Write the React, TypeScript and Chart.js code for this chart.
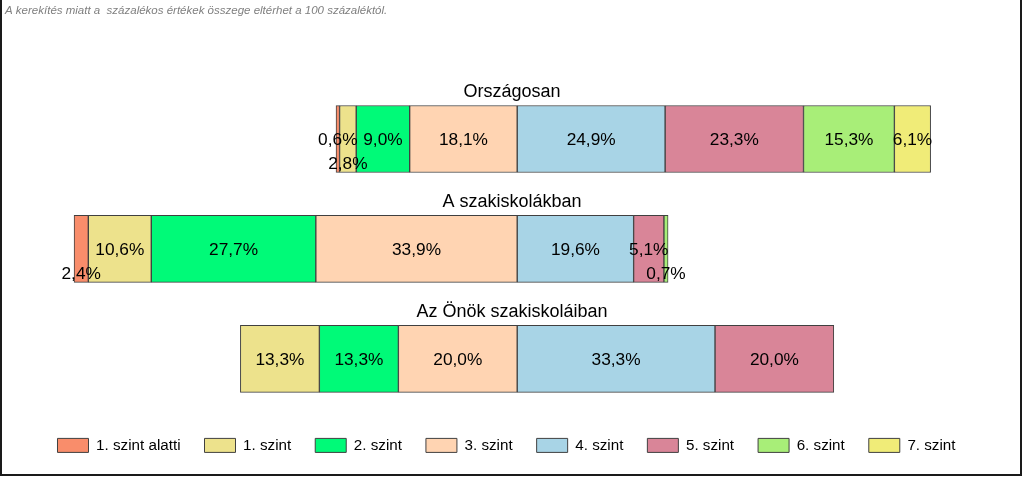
import React, { useEffect, useRef } from 'react';
import { Chart, registerables } from 'chart.js';

Chart.register(...registerables);

const categories = ['Országosan', 'A szakiskolákban', 'Az Önök szakiskoláiban'];
const levelNames = ['1. szint alatti', '1. szint', '2. szint', '3. szint', '4. szint', '5. szint', '6. szint', '7. szint'];

const below1 = [0.6, 2.4, 0];
const level1 = [2.8, 10.6, 13.3];
const level2 = [9.0, 27.7, 13.3];
const level3 = [18.1, 33.9, 20.0];
const level4 = [24.9, 19.6, 33.3];
const level5 = [23.3, 5.1, 20.0];
const level6 = [15.3, 0.7, 0];
const level7 = [6.1, 0, 0];

const series = [below1, level1, level2, level3, level4, level5, level6, level7];
const levelColors = ['#F98D6B', '#EDE28C', '#00FA78', '#FFD4B2', '#A8D4E6', '#D98598', '#A8EE78', '#F0EC78'];

// levels before this index lie left of the zero line
const firstUpperLevel = 4;
// labels drawn below the bar centre (category index, level index)
const staggeredLabels = [[0, 1], [1, 0], [1, 6]];

const note = 'A kerekítés miatt a  százalékos értékek összege eltérhet a 100 százaléktól.';

const FONT = '"Liberation Sans", Arial, sans-serif';

function floating(li: number, ci: number): [number, number] | null {
  const v = series[li][ci];
  if (!v) return null;
  let start = 0;
  if (li < firstUpperLevel) {
    for (let k = li; k < firstUpperLevel; k++) start -= series[k][ci];
  } else {
    for (let k = firstUpperLevel; k < li; k++) start += series[k][ci];
  }
  return [start, start + v];
}

const fmt = (v: number) => v.toFixed(1).replace('.', ',') + '%';

const labelPlugin = {
  id: 'segLabels',
  afterDatasetsDraw(chart: any) {
    const ctx = chart.ctx;
    ctx.save();
    ctx.font = `17.3px ${FONT}`;
    ctx.fillStyle = '#000';
    ctx.textAlign = 'center';
    ctx.textBaseline = 'middle';
    chart.data.datasets.forEach((_ds: any, li: number) => {
      const meta = chart.getDatasetMeta(li);
      meta.data.forEach((el: any, ci: number) => {
        const v = series[li][ci];
        if (!v) return;
        const p = el.getProps(['x', 'base', 'y'], true);
        const cx = (p.x + p.base) / 2;
        const st = staggeredLabels.some(([c, l]) => c === ci && l === li);
        ctx.fillText(fmt(v), cx, p.y + 1 + (st ? 24 : 0));
      });
    });
    // category titles above bars
    ctx.font = `18px ${FONT}`;
    ctx.textBaseline = 'alphabetic';
    const yScale = chart.scales.y;
    categories.forEach((c, ci) => {
      const yc = yScale.getPixelForValue(ci);
      ctx.fillText(c, 512, yc - 33.5 - 8);
    });
    ctx.restore();
  },
  afterDraw(chart: any) {
    const ctx = chart.ctx;
    ctx.save();
    ctx.font = `italic 11.5px ${FONT}`;
    ctx.fillStyle = '#7F7F7F';
    ctx.textAlign = 'left';
    ctx.textBaseline = 'alphabetic';
    ctx.fillText(note, 5, 14);
    ctx.strokeStyle = '#1A1A1A';
    ctx.lineWidth = 2;
    ctx.beginPath();
    ctx.moveTo(1, 0);
    ctx.lineTo(1, 475);
    ctx.lineTo(1021, 475);
    ctx.lineTo(1021, 0);
    ctx.stroke();
    ctx.restore();
  },
};

export default function App() {
  const ref = useRef<HTMLCanvasElement | null>(null);
  useEffect(() => {
    if (!ref.current) return;
    Chart.defaults.color = '#000';
    const chart = new Chart(ref.current, {
      type: 'bar',
      data: {
        labels: categories,
        datasets: levelNames.map((name, li) => ({
          label: name,
          data: categories.map((_c, ci) => floating(li, ci)) as any,
          backgroundColor: levelColors[li],
          borderColor: '#404040',
          borderWidth: 1,
          borderSkipped: false,
          barThickness: 67,
          grouped: false,
        })),
      },
      options: {
        indexAxis: 'y',
        responsive: false,
        animation: false,
        layout: { padding: { left: 20, right: 31, top: 84, bottom: 15 } },
        scales: {
          x: { display: false, min: -83.7, max: 80.1 },
          y: { display: false },
        },
        plugins: {
          tooltip: { enabled: false },
          legend: {
            position: 'bottom',
            labels: {
              boxWidth: 31,
              boxHeight: 14,
              padding: 24,
              color: '#000',
              font: { family: FONT, size: 15.2 },
            },
          },
        },
      },
      plugins: [labelPlugin],
    });
    return () => chart.destroy();
  }, []);
  return (
    <div style={{ position: 'absolute', left: 0, top: 0, width: 1024, height: 478, background: '#fff' }}>
      <canvas ref={ref} width={1024} height={478} style={{ display: 'block' }} />
    </div>
  );
}
